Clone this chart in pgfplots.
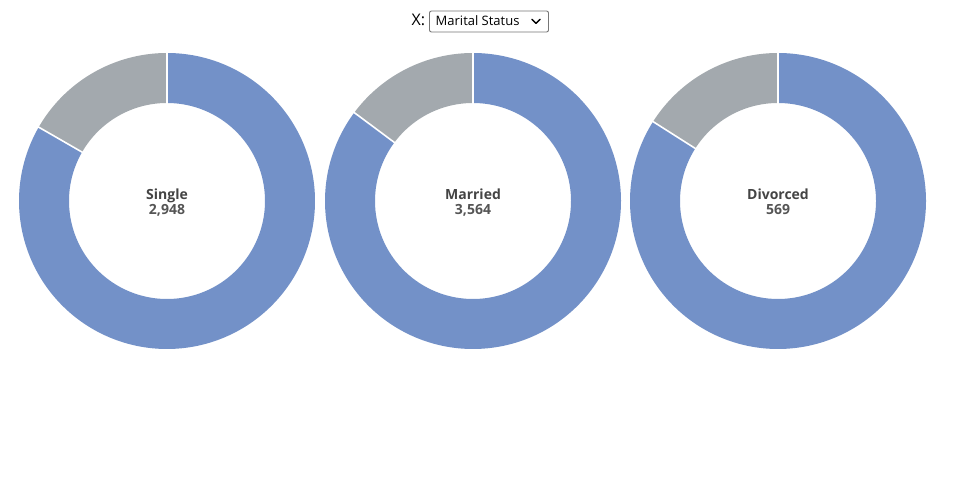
\documentclass[border=0pt]{standalone}
\usepackage{pgfplots}
\pgfplotsset{compat=1.18}
\usepackage{pgfplotstable}
\usepackage{fontspec}
\setmainfont{Open Sans}

\definecolor{stayblue}{HTML}{7391C8}
\definecolor{leftgray}{HTML}{A3A9AE}
\definecolor{labeldark}{HTML}{444444}
\definecolor{numberdark}{HTML}{555555}
\definecolor{boxborder}{HTML}{767676}

% headcount per marital status and the part of it shown in gray
\pgfplotstableread{
status   total other
Single   2948  492
Married  3564  528
Divorced 569   91
}\maritaldata

% ring geometry (1 unit = 1pt)
\def\rin{98}
\def\rout{148}
\pgfmathsetmacro\rmid{(\rin+\rout)/2}
\pgfmathsetmacro\ringwidth{\rout-\rin}

% #1 = row of the table, #2 = x of the ring centre
\newcommand{\donut}[2]{%
  \pgfplotstablegetelem{#1}{status}\of\maritaldata
  \edef\dname{\pgfplotsretval}%
  \pgfplotstablegetelem{#1}{total}\of\maritaldata
  \edef\dtotal{\pgfplotsretval}%
  \pgfplotstablegetelem{#1}{other}\of\maritaldata
  \edef\dother{\pgfplotsretval}%
  \pgfmathsetmacro\splitangle{90+(\dother/\dtotal)*360}%
  \begin{axis}[
      at={(#2pt,299pt)}, anchor=origin,
      x=1pt, y=1pt,
      xmin=-150, xmax=150, ymin=-150, ymax=150,
      hide axis, clip=false]
    \addplot[leftgray, line width=\ringwidth pt, domain=90:\splitangle, samples=120]
      ({\rmid*cos(x)}, {\rmid*sin(x)});
    \addplot[stayblue, line width=\ringwidth pt, domain=\splitangle:450, samples=240]
      ({\rmid*cos(x)}, {\rmid*sin(x)});
    \addplot[white, line width=1.6pt, domain=\rin-1:\rout+1, samples=2]
      ({x*cos(90)}, {x*sin(90)});
    \addplot[white, line width=1.6pt, domain=\rin-1:\rout+1, samples=2]
      ({x*cos(\splitangle)}, {x*sin(\splitangle)});
    \node[anchor=base, font=\fontsize{14}{16}\selectfont\bfseries, text=labeldark,
          inner sep=0pt] at (axis cs:0,1.5) {\dname};
    \node[anchor=base, font=\fontsize{14}{16}\selectfont\bfseries, text=numberdark,
          inner sep=0pt] at (axis cs:0,-13.5)
          {\pgfmathprintnumber[fixed, 1000 sep={,}, assume math mode=true]{\dtotal}};
  \end{axis}%
}

\begin{document}
\begin{tikzpicture}[x=1pt, y=1pt]
  \fill[white] (0,0) rectangle (960,500);
  \path[use as bounding box] (0,0) rectangle (960,500);

  % selector above the rings
  \node[anchor=base west, inner sep=0pt, font=\fontsize{16}{18}\selectfont, text=black]
    at (411.5,474.5) {X:};
  \draw[boxborder, line width=0.9pt, rounded corners=2pt, fill=white]
    (429.5,468) rectangle (548.5,489);
  \node[anchor=base west, inner sep=0pt, font=\fontsize{13}{15}\selectfont, text=black]
    at (435.5,474.3) {Marital Status};
  \draw[black, line width=1.5pt, line cap=round, line join=round]
    (532,480.6) -- (536,476.6) -- (540,480.6);

  \donut{0}{167}
  \donut{1}{473}
  \donut{2}{778}
\end{tikzpicture}
\end{document}
